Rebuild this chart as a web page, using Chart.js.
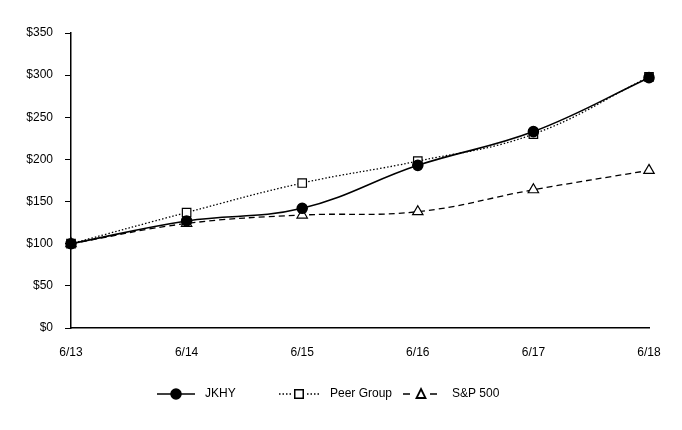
<!DOCTYPE html>
<html><head><meta charset="utf-8">
<script src="https://cdn.jsdelivr.net/npm/chart.js@4"></script>
<style>html,body{margin:0;padding:0;background:#fff}#wrap{width:682px;height:430px;position:relative}</style>
</head><body><div id="wrap"><canvas id="c" width="682" height="430"></canvas></div>
<script>
const categories = ["6/13","6/14","6/15","6/16","6/17","6/18"];
const jkhy = [100, 127, 142, 193, 233, 297];
const peer = [100, 137, 172, 198, 230, 298];
const sp500 = [100, 124, 134, 138, 164, 187];
const yTicks = [0,50,100,150,200,250,300,350];
const seriesNames = ["JKHY","Peer Group","S&P 500"];

const FONT = "'Liberation Sans', Arial, sans-serif";

const legendPlugin = {
  id: 'customLegend',
  afterDraw(chart, args, opts) {
    const ctx = chart.ctx;
    const y = opts.y;
    ctx.save();
    ctx.font = "12px " + FONT;
    ctx.textBaseline = 'middle';
    ctx.fillStyle = '#000';
    opts.items.forEach((it, i) => {
      const ds = chart.data.datasets[i];
      ctx.save();
      ctx.strokeStyle = '#000';
      ctx.lineWidth = it.lw || ds.borderWidth;
      ctx.setLineDash(it.dash || ds.borderDash || []);
      ctx.beginPath();
      ctx.moveTo(it.x0, y); ctx.lineTo(it.x1, y);
      ctx.stroke();
      ctx.restore();
      const mx = it.mx !== undefined ? it.mx : (it.x0 + it.x1) / 2;
      ctx.save();
      ctx.setLineDash([]);
      ctx.lineWidth = 1.5;
      ctx.strokeStyle = '#000';
      const r = ds.pointRadius;
      if (ds.pointStyle === 'circle') {
        ctx.fillStyle = ds.pointBackgroundColor;
        ctx.beginPath(); ctx.arc(mx, y, r, 0, Math.PI*2); ctx.fill(); ctx.stroke();
      } else if (ds.pointStyle === 'rect') {
        const s = 8.5;
        ctx.fillStyle = '#fff';
        ctx.fillRect(mx - s/2 - 3, y - s/2 - 1, s + 6, s + 2);
        ctx.fillStyle = ds.pointBackgroundColor;
        ctx.fillRect(mx - s/2, y - s/2, s, s); ctx.strokeRect(mx - s/2, y - s/2, s, s);
      } else if (ds.pointStyle === 'triangle') {
        ctx.lineWidth = 1.8;
        ctx.beginPath();
        ctx.moveTo(mx, y - 5);
        ctx.lineTo(mx + 4.5, y + 4);
        ctx.lineTo(mx - 4.5, y + 4);
        ctx.closePath(); ctx.fillStyle = ds.pointBackgroundColor; ctx.fill(); ctx.stroke();
      }
      ctx.restore();
      ctx.fillStyle = '#000';
      ctx.fillText(seriesNames[i], it.tx, y);
    });
    ctx.restore();
  }
};

new Chart(document.getElementById('c'), {
  type: 'line',
  data: {
    labels: categories,
    datasets: [
      { label: seriesNames[0], data: jkhy, borderColor: '#000', borderWidth: 1.6, tension: 0.4,
        pointStyle: 'circle', pointRadius: 5, pointBackgroundColor: '#000', pointBorderColor: '#000', order: 1 },
      { label: seriesNames[1], data: peer, borderColor: '#000', borderWidth: 1.3, borderDash: [1.5, 2], tension: 0.4,
        pointStyle: 'rect', pointRadius: 6, pointBackgroundColor: '#fff', pointBorderColor: '#000', pointBorderWidth: 1.2, order: 2 },
      { label: seriesNames[2], data: sp500, borderColor: '#000', borderWidth: 1.3, borderDash: [6, 4], tension: 0.4,
        pointStyle: 'triangle', pointRadius: 6, pointBackgroundColor: '#fff', pointBorderColor: '#000', pointBorderWidth: 1.2, order: 3 }
    ]
  },
  options: {
    responsive: false,
    animation: false,
    layout: { padding: { top: 33, right: 33, bottom: 72, left: 0 } },
    plugins: {
      legend: { display: false },
      tooltip: { enabled: false },
      customLegend: {
        y: 394,
        items: [
          { x0: 157, x1: 195, tx: 205 },
          { x0: 279, x1: 319, tx: 330 },
          { x0: 403, x1: 437, mx: 421, tx: 452, dash: [7, 20], lw: 1.6 }
        ]
      }
    },
    scales: {
      x: {
        offset: false,
        grid: { display: false, drawOnChartArea: false, drawTicks: true, tickLength: 6, tickColor: '#000' },
        border: { color: '#000', width: 1.5 },
        ticks: { color: '#000', font: { family: FONT, size: 12 }, padding: 11, maxRotation: 0 },
        afterFit(s) { s.height = 30; }
      },
      y: {
        min: 0, max: 350,
        afterBuildTicks(s) { s.ticks = yTicks.map(v => ({ value: v })); },
        grid: { drawOnChartArea: false, drawTicks: true, tickLength: 6, tickColor: '#000' },
        border: { color: '#000', width: 1.5 },
        ticks: { color: '#000', font: { family: FONT, size: 12 }, padding: 12, callback: v => '$' + v },
        afterFit(s) { s.width = 71; }
      }
    }
  },
  plugins: [legendPlugin]
});
</script>
</body></html>
